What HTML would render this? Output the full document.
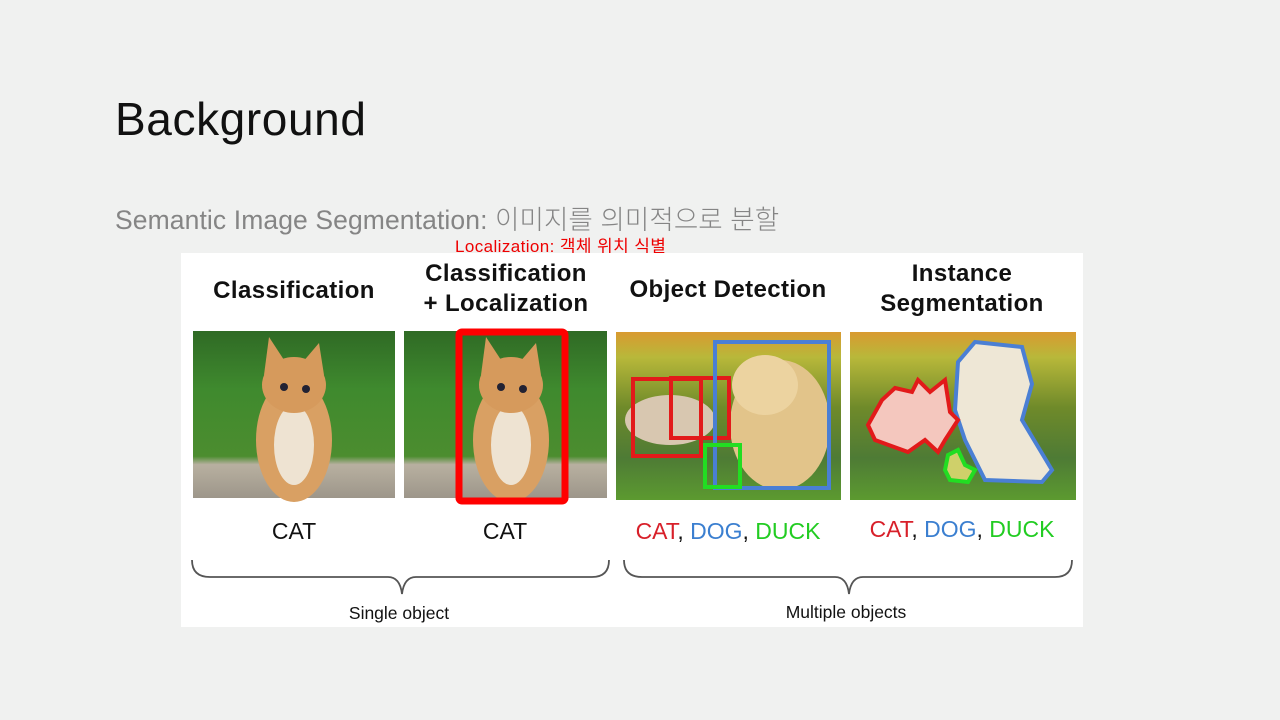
<!DOCTYPE html>
<html><head><meta charset="utf-8"><style>
body{margin:0;width:1280px;height:720px;background:#f0f1f0;overflow:hidden;position:relative;font-family:"Liberation Sans","Noto Sans CJK KR",sans-serif}
.t{position:absolute;white-space:nowrap}
</style></head><body>
<div class="t" style="left:115px;top:92px;font-size:46px;letter-spacing:0.6px;color:#111;font-family:'Liberation Sans','NanumGothic',sans-serif">Background</div>
<div class="t" style="left:115px;top:198px;font-size:26.5px;letter-spacing:0.1px;color:#858585;font-weight:300">Semantic Image Segmentation: 이미지를 의미적으로 분할</div>
<div class="t" style="left:455px;top:232px;font-size:17px;letter-spacing:0.4px;color:#e00">Localization: 객체 위치 식별</div>
<svg style="position:absolute;left:0;top:0" width="1280" height="720">
<defs>
<linearGradient id="g1" x1="0" y1="0" x2="0" y2="1">
<stop offset="0" stop-color="#2f6a25"/><stop offset="0.35" stop-color="#3f8a2e"/><stop offset="0.75" stop-color="#4c8d2f"/><stop offset="0.8" stop-color="#b8b0a0"/><stop offset="1" stop-color="#9d968a"/></linearGradient>
<linearGradient id="g2" x1="0" y1="0" x2="0" y2="1">
<stop offset="0" stop-color="#d99a30"/><stop offset="0.15" stop-color="#b8b83a"/><stop offset="0.45" stop-color="#6f8a2a"/><stop offset="0.75" stop-color="#4e7b35"/><stop offset="1" stop-color="#5c9a30"/></linearGradient>
<g id="cat"><ellipse cx="0" cy="55" rx="38" ry="62" fill="#d9a063"/><ellipse cx="0" cy="60" rx="20" ry="40" fill="#eee3d2"/><ellipse cx="0" cy="0" rx="32" ry="28" fill="#d69a5c"/><polygon points="-30,-10 -25,-48 -8,-22" fill="#d69a5c"/><polygon points="30,-10 25,-42 8,-22" fill="#d69a5c"/><circle cx="-10" cy="2" r="4" fill="#223"/><circle cx="12" cy="4" r="4" fill="#223"/></g>
</defs>
<rect x="181" y="253" width="902" height="374" fill="#fff"/>
<g font-weight="bold" font-size="24" letter-spacing="0.4" fill="#111" text-anchor="middle">
<text x="294" y="298">Classification</text>
<text x="506" y="281">Classification</text><text x="506" y="311">+ Localization</text>
<text x="728" y="297">Object Detection</text>
<text x="962" y="281">Instance</text><text x="962" y="311">Segmentation</text>
</g>
<rect x="193" y="331" width="202" height="167" fill="url(#g1)"/>
<use href="#cat" x="294" y="385"/>
<rect x="404" y="331" width="203" height="167" fill="url(#g1)"/>
<use href="#cat" x="511" y="385"/>
<rect x="459" y="332" width="106" height="169" fill="none" stroke="#f00" stroke-width="7" rx="3"/>
<rect x="616" y="332" width="225" height="168" fill="url(#g2)"/>
<rect x="850" y="332" width="226" height="168" fill="url(#g2)"/>
<ellipse cx="780" cy="425" rx="50" ry="65" fill="#e2c48a"/><ellipse cx="765" cy="385" rx="33" ry="30" fill="#ecd3a0"/>
<ellipse cx="670" cy="420" rx="45" ry="25" fill="#d8c7b0"/>
<path d="M958,362 L975,342 L1022,347 L1032,384 L1022,420 L1052,470 L1042,482 L985,480 L965,440 L955,410 Z" fill="#eee7d6" stroke="#4a7fd4" stroke-width="4"/>
<path d="M868,425 L882,400 L895,388 L912,392 L918,380 L930,392 L945,380 L950,412 L958,420 L945,440 L938,452 L925,440 L908,452 L875,440 Z" fill="#f4c7be" stroke="#e21a1a" stroke-width="4"/>
<path d="M948,455 L958,450 L965,465 L975,470 L968,482 L950,480 L945,470 Z" fill="#cfd06a" stroke="#22dd22" stroke-width="4"/>
<g fill="none" stroke-width="4">
<rect x="633" y="379" width="68" height="77" stroke="#e21a1a"/>
<rect x="671" y="378" width="58" height="60" stroke="#e21a1a"/>
<rect x="715" y="342" width="114" height="146" stroke="#4a7fd4"/>
<rect x="705" y="445" width="35" height="42" stroke="#22dd22"/>
</g>
<g font-size="23" text-anchor="middle">
<text x="294" y="539" fill="#111">CAT</text>
<text x="505" y="539" fill="#111">CAT</text>
<text x="728" y="539"><tspan fill="#d8202a">CAT</tspan><tspan fill="#111">, </tspan><tspan fill="#3b7fd0">DOG</tspan><tspan fill="#111">, </tspan><tspan fill="#22cc22">DUCK</tspan></text>
<text x="962" y="537"><tspan fill="#d8202a">CAT</tspan><tspan fill="#111">, </tspan><tspan fill="#3b7fd0">DOG</tspan><tspan fill="#111">, </tspan><tspan fill="#22cc22">DUCK</tspan></text>
</g>
<g fill="none" stroke="#555" stroke-width="1.8">
<path d="M192,560 Q192,577 210,577 L388,577 Q400,577 402,594 Q404,577 416,577 L592,577 Q609,577 609,560"/>
<path d="M624,560 Q624,577 642,577 L835,577 Q847,577 849,594 Q851,577 863,577 L1055,577 Q1072,577 1072,560"/>
</g>
<g font-size="17.5" fill="#111" text-anchor="middle">
<text x="399" y="619">Single object</text>
<text x="846" y="618">Multiple objects</text>
</g>
</svg>
</body></html>
